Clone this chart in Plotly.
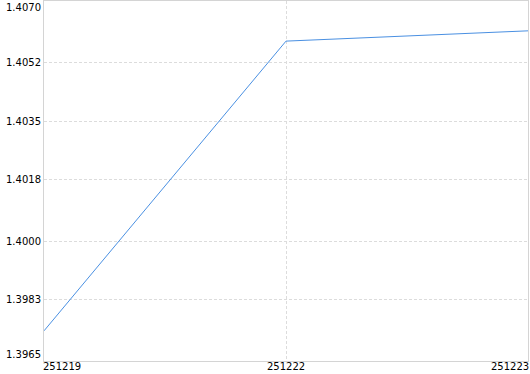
import plotly.graph_objects as go

categories = ["251219", "251222", "251223"]
values = [1.39738, 1.40583, 1.40613]
y_ticks = [1.3965, 1.3983, 1.4000, 1.4018, 1.4035, 1.4052, 1.4070]
y_tick_labels = ["1.3965", "1.3983", "1.4000", "1.4018", "1.4035", "1.4052", "1.4070"]

FONT = dict(family="DejaVu Sans", size=10, color="#000000")
GRID = "#dcdcdc"
BORDER = "#d4d4d4"

fig = go.Figure()
fig.add_trace(go.Scatter(
    x=list(range(len(categories))), y=values, mode="lines",
    line=dict(color="#4a90e2", width=1),
    hoverinfo="skip",
))

fig.update_layout(
    width=530, height=374,
    margin=dict(l=44, r=2, t=1, b=13),
    paper_bgcolor="white", plot_bgcolor="white",
    showlegend=False,
    xaxis=dict(
        type="linear", range=[0, len(categories) - 1],
        tickvals=list(range(len(categories))),
        showgrid=True, gridcolor=GRID, griddash="3px,2px", gridwidth=1,
        showline=True, linecolor=BORDER, linewidth=1, mirror=True,
        showticklabels=False, ticks="", zeroline=False,
    ),
    yaxis=dict(
        range=[y_ticks[0], y_ticks[-1]],
        tickvals=y_ticks,
        showgrid=True, gridcolor=GRID, griddash="3px,2px", gridwidth=1,
        showline=True, linecolor=BORDER, linewidth=1, mirror=True,
        showticklabels=False, ticks="", zeroline=False,
    ),
)

annotations = []
n = len(categories)
for i, c in enumerate(categories):
    anchor = "left" if i == 0 else ("right" if i == n - 1 else "center")
    shift = -2 if i == 0 else (2 if i == n - 1 else 0)
    annotations.append(dict(
        x=i, y=0, xref="x", yref="paper", text=c, showarrow=False,
        xanchor=anchor, yanchor="top", yshift=1, xshift=shift,
        borderpad=0, font=FONT,
    ))
m = len(y_ticks)
for j, (v, t) in enumerate(zip(y_ticks, y_tick_labels)):
    ya = "bottom" if j == 0 else ("top" if j == m - 1 else "middle")
    annotations.append(dict(
        x=0, y=v, xref="paper", yref="y", text=t, showarrow=False,
        xanchor="right", yanchor=ya, xshift=-2, borderpad=0, font=FONT,
    ))
fig.update_layout(annotations=annotations)

fig.write_html("out.html")
